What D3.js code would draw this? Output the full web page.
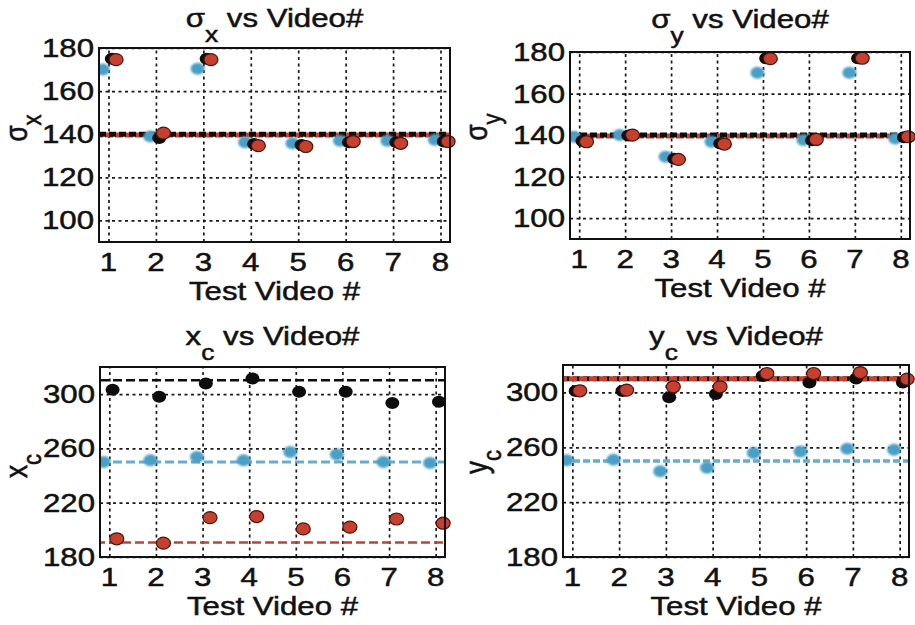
<!DOCTYPE html>
<html>
<head>
<meta charset="utf-8">
<script src="https://cdn.jsdelivr.net/npm/d3@7"></script>
<style>
  body { margin: 0; background: #fff; }
  text { font-family: "Liberation Sans", Arial, sans-serif; fill: #111; stroke: #111; stroke-width: 0.5px; }
</style>
</head>
<body>
<svg width="915" height="625"></svg>
<script>
// test video number on x axis
var videos = [1, 2, 3, 4, 5, 6, 7, 8];

// sigma x per video (cyan, black, red runs)
var sxCyan  = [170, 139, 170.4, 136.3, 135.8, 137, 137, 137.4];
var sxBlack = [175, 138.3, 175, 135.5, 135, 136.3, 136.3, 136.6];
var sxRed   = [174.6, 140.5, 174.6, 134.7, 134.3, 136.6, 135.8, 136.6];
var sxMeans = [140, 140, 139.6];   // cyan, black, red

// sigma y per video
var syCyan  = [139.2, 140, 129.6, 136.8, 170, 137.6, 170, 138.4];
var syBlack = [137.2, 139.8, 128.6, 136, 177, 137.5, 177, 139];
var syRed   = [136.8, 140, 128.3, 135.7, 176.8, 137.9, 177, 139.2];
var syMeans = [140, 140, 139.6];

// x centre per video
var xcCyan  = [250, 251.2, 253.7, 251.2, 257.3, 255.6, 250, 249.3];
var xcBlack = [303.2, 298, 307.8, 311.5, 301.7, 301.7, 293.4, 294.4];
var xcRed   = [193.4, 190.2, 209, 209.8, 200.7, 202, 208, 204.9];
var xcMeans = [250, 310.2, 190.6];

// y centre per video
var ycCyan  = [250.5, 251, 242.5, 245, 255.8, 257, 259, 258.2];
var ycBlack = [301, 301, 296.4, 298.8, 312, 307.2, 310.1, 307.2];
var ycRed   = [301.2, 301.7, 304.1, 304.1, 313.8, 313.8, 314.5, 309.7];
var ycMeans = [250, 310, 310];

// tick labels
var sigmaTicks  = [100, 120, 140, 160, 180];
var centreTicks = [180, 220, 260, 300];

var colors  = ["#4a9fc6", "#0d0d0d", "#c5402e"];
var offsets = [-0.12, 0.07, 0.16];   // little side shift so the runs don't sit on each other
var stretch = 1.2;                   // the picture is a bit wide, so the text is too

var panels = [
  { sym: "σ", sub: "x", series: [sxCyan, sxBlack, sxRed], means: sxMeans, ticks: sigmaTicks, yDom: [90, 180],
    x: 99, y: 48, w: 351, h: 194, titleY: 27, labX: 27, labY: 128, lineOrder: [0, 2, 1] },
  { sym: "σ", sub: "y", series: [syCyan, syBlack, syRed], means: syMeans, ticks: sigmaTicks, yDom: [90, 180],
    x: 570, y: 52, w: 340, h: 187, titleY: 28, labX: 487, labY: 127, lineOrder: [0, 2, 1] },
  { sym: "x", sub: "c", series: [xcCyan, xcBlack, xcRed], means: xcMeans, ticks: centreTicks, yDom: [180, 320],
    x: 100, y: 367, w: 345, h: 190, titleY: 345, labX: 27, labY: 466, lineOrder: [0, 1, 2] },
  { sym: "y", sub: "c", series: [ycCyan, ycBlack, ycRed], means: ycMeans, ticks: centreTicks, yDom: [180, 320],
    x: 563, y: 365, w: 346, h: 192, titleY: 345, labX: 487, labY: 462, lineOrder: [0, 1, 2] }
];

var svg = d3.select("svg");

svg.append("defs").append("filter")
    .attr("id", "soft")
  .append("feGaussianBlur")
    .attr("stdDeviation", 0.9);

panels.forEach(function(p, pi) {
  var x = d3.scaleLinear().domain([0.8, 8.2]).range([p.x, p.x + p.w]);
  var y = d3.scaleLinear().domain(p.yDom).range([p.y + p.h, p.y]);

  var clipId = "clip" + pi;
  svg.append("clipPath").attr("id", clipId)
    .append("rect")
      .attr("x", p.x).attr("y", p.y - 8)
      .attr("width", p.w + 8).attr("height", p.h + 8);

  var g = svg.append("g");

  // dotted grid (axis ticks stretched across the box)
  g.append("g")
      .attr("transform", "translate(0," + (p.y + p.h) + ")")
      .call(d3.axisBottom(x).tickValues(videos).tickSize(-p.h).tickFormat(""))
      .call(function(a) {
        a.select(".domain").remove();
        a.selectAll("line").attr("stroke", "#1a1a1a").attr("stroke-width", 1.7).attr("stroke-dasharray", "3,3.5");
      });
  g.append("g")
      .attr("transform", "translate(" + p.x + ",0)")
      .call(d3.axisLeft(y).tickValues(p.ticks).tickSize(-p.w).tickFormat(""))
      .call(function(a) {
        a.select(".domain").remove();
        a.selectAll("line").attr("stroke", "#1a1a1a").attr("stroke-width", 1.7).attr("stroke-dasharray", "3,3.5");
      });

  // tick labels
  g.selectAll(".xl")
    .data(videos)
    .enter().append("text")
      .attr("transform", function(d) { return "translate(" + x(d) + "," + (p.y + p.h + 29) + ") scale(" + stretch + ",1)"; })
      .attr("text-anchor", "middle")
      .style("font-size", "26px")
      .text(function(d) { return d; });

  g.selectAll(".yl")
    .data(p.ticks)
    .enter().append("text")
      .attr("transform", function(d) { return "translate(" + (p.x - 5) + "," + (y(d) + 9) + ") scale(" + stretch + ",1)"; })
      .attr("text-anchor", "end")
      .style("font-size", "26px")
      .text(function(d) { return d; });

  // mean lines
  var plot = g.append("g").attr("clip-path", "url(#" + clipId + ")");
  var top = pi < 2;
  p.lineOrder.forEach(function(si) {
    var m = p.means[si];
    var thick = top || pi == 3;
    plot.append("line")
        .attr("x1", p.x).attr("x2", p.x + p.w)
        .attr("y1", y(m)).attr("y2", y(m))
        .attr("stroke", colors[si])
        .attr("stroke-width", thick ? (si == 0 ? 3.5 : 5) : (si == 0 ? 3 : 2.5))
        .attr("stroke-dasharray", thick ? (si == 2 ? "8,2" : "7,3") : "9,4")
        .attr("stroke-dashoffset", si == 2 ? 4 : 0)
        .attr("opacity", si == 0 ? 0.85 : 1);
  });

  // markers: cyan first, red last on top
  p.series.forEach(function(vals, si) {
    plot.selectAll(".m" + si)
      .data(vals)
      .enter().append("ellipse")
        .attr("cx", function(d, i) { return x(videos[i] + offsets[si]); })
        .attr("cy", function(d) { return y(d); })
        .attr("rx", 7)
        .attr("ry", 6)
        .attr("fill", colors[si])
        .attr("stroke", si == 2 ? "#4a140c" : "none")
        .attr("stroke-width", 1.2)
        .attr("filter", si == 0 ? "url(#soft)" : null);
  });

  // box
  g.append("rect")
      .attr("x", p.x).attr("y", p.y)
      .attr("width", p.w).attr("height", p.h)
      .attr("fill", "none")
      .attr("stroke", "#111")
      .attr("stroke-width", 2);

  // title with subscript
  var t = g.append("text")
      .attr("transform", "translate(" + (p.x + p.w / 2) + "," + p.titleY + ") scale(" + stretch + ",1)")
      .attr("text-anchor", "middle")
      .style("font-size", "26px");
  t.append("tspan").text(p.sym);
  t.append("tspan").attr("dy", 15).style("font-size", "22px").text(p.sub);
  t.append("tspan").attr("dy", -15).text(" vs Video#");

  // x label
  g.append("text")
      .attr("transform", "translate(" + (p.x + p.w / 2) + "," + (p.y + p.h + 58) + ") scale(" + stretch + ",1)")
      .attr("text-anchor", "middle")
      .style("font-size", "26px")
      .text("Test Video #");

  // y label, rotated
  var yl = g.append("text")
      .attr("transform", "translate(" + p.labX + "," + p.labY + ") rotate(-90) scale(1," + stretch + ")")
      .attr("text-anchor", "middle")
      .style("font-size", "26px");
  yl.append("tspan").text(p.sym);
  yl.append("tspan").attr("dy", 12).style("font-size", "22px").text(p.sub);
});
</script>
</body>
</html>
